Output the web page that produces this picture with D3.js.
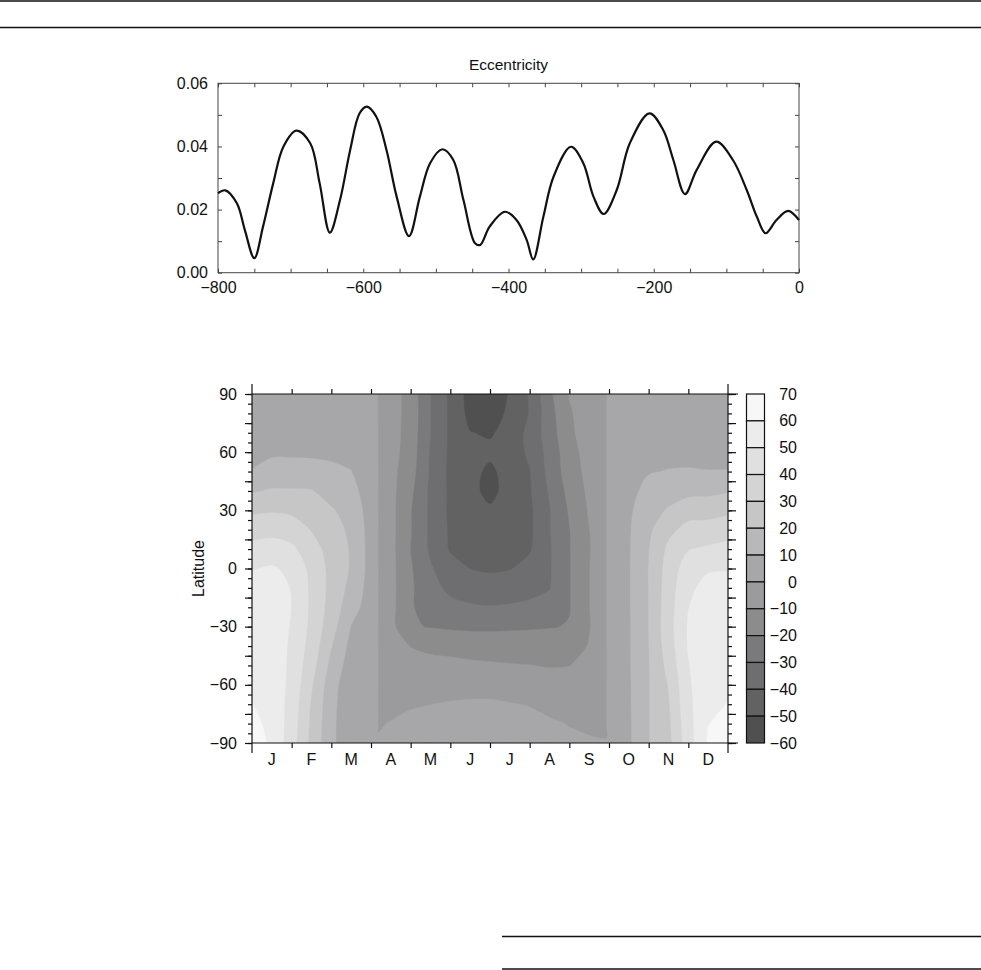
<!DOCTYPE html>
<html><head><meta charset="utf-8">
<script src="https://cdn.jsdelivr.net/npm/d3@7"></script>
<style>
html,body{margin:0;padding:0;background:#fff;}
svg{display:block;}
text{font-family:"Liberation Sans",Arial,Helvetica,sans-serif;fill:#111;}
</style></head><body>
<svg id="chart" width="981" height="970"></svg>
<script>
// ---------- data ----------
const eccTitle = "Eccentricity";
const eccTime = [-800,-790,-774,-763,-750,-738,-724,-710,-692,-673,-660,-646,-632,-618,-605,-595,-582,-568,-554,-537,-522,-508,-491,-476,-462,-446,-439,-426,-405,-389,-375,-366,-352,-338,-314,-297,-283,-269,-251,-233,-206,-187,-173,-157,-141,-114,-91,-72,-58,-46,-31,-15,0];
const eccValue = [.0252,.0261,.0220,.0135,.0046,.0146,.0283,.0399,.0450,.0410,.0283,.0127,.0230,.0389,.0505,.0526,.0494,.0389,.0241,.0116,.0241,.0347,.0391,.0357,.0230,.0093,.0088,.0146,.0193,.0167,.0104,.0042,.0177,.0304,.0399,.0347,.0241,.0186,.0262,.0410,.0505,.0452,.0357,.0249,.0325,.0415,.0357,.0262,.0177,.0125,.0167,.0196,.0167];
const eccYTicks = [0, 0.01, 0.02, 0.03, 0.04, 0.05, 0.06];
const eccYLabels = [0, 0.02, 0.04, 0.06];
const eccXLabels = [-800, -600, -400, -200, 0];

const monthLabels = ["J","F","M","A","M","J","J","A","S","O","N","D"];
const latLabels = [90, 60, 30, 0, -30, -60, -90];
const latAxisTitle = "Latitude";

// colour bar levels (top to bottom) and class colours (class k between levels[k+1] and levels[k])
const levels = [70, 60, 50, 40, 30, 20, 10, 0, -10, -20, -30, -40, -50, -60];
const levelColors = ["#f7f7f7","#ececec","#e0e0e0","#d4d4d4","#c6c6c6","#b8b8ba","#a7a7a9","#9b9b9d","#8c8c8c","#7a7a7c","#6e6e70","#626262","#505050"];

// field grid: columns at month positions, rows at latitudes
const fieldMonths = [0,0.5,1,1.5,2,2.5,3,3.17, 3.19,3.5,4,4.5,5,5.5,6,6.5,7,7.5,8,8.5,8.93, 8.95,9.5,10,10.5,11,11.5,12];
const fieldLats = [90,80,70,60,50,40,30,20,10,0,-10,-20,-30,-40,-50,-60,-70,-80,-90];
const fieldValues = [
 [0.5,1,1,1,1,1,1,1,        -3,-5.5,-14,-30,-42,-54,-58,-49,-39,-22,-9.5,-5,-1,        1,1,1,1,1,1,0.5],
 [2,3,3,3,3,2,1.5,1,        -3,-5.5,-14,-30,-42,-53,-55,-48,-39.5,-24,-11,-5.5,-1.5,   1,2,2.5,3,3,3,2],
 [3,5,5,5,5,4,2,1.5,        -3,-5.5,-14.5,-30,-42,-49.7,-51,-47,-37,-25,-12,-5,-2,     1.5,3,4,5,5.5,5.5,3],
 [6,8.8,8.8,8.8,8.5,7,3,2,  -3.5,-6,-15,-31,-42,-46,-48,-46,-38,-26.5,-14,-6,-2.5,     2,4.5,7,8,8,8,6],
 [10.5,13,13,12.5,11.5,10.2,4,3, -4,-7,-16,-31.5,-42.5,-47,-52,-46,-40.5,-27,-15,-7,-3, 3,6,9.5,10.3,10.5,10.2,10.5],
 [19,21,21,20.5,16,13,5,4,  -4.5,-7,-18,-32,-42,-47,-53,-46,-41,-29,-17,-8,-3.5,       4,7.5,12.5,15,17,17.5,19],
 [28,29,28,26,21,16,5.5,4.5, -5,-7,-19.5,-32,-42,-46,-48.5,-46,-42,-30.5,-19,-9,-4,    4.5,8.5,15.5,21,26,26.5,28],
 [36,37,35,29.5,24,18,6,5,  -5,-7,-19.5,-32,-41.5,-45,-46.5,-45,-42,-30.5,-20.3,-10.2,-4, 5,9,18,27.5,33,33.5,36],
 [43,44,42,34,26,19,6,5,    -5,-7,-20.2,-31.5,-41,-44,-45,-44,-41,-31,-20.5,-10.5,-4,  5,9.2,19.5,32,39.5,41.5,43],
 [49.5,51,48,37,27,19,6,5,  -5,-7,-19,-29,-36,-40.2,-41.5,-40.5,-37,-31,-20.5,-10.2,-4, 5,9.2,20.2,34,45,49,49.5],
 [53,54,49.5,38,27,17,5.5,4.5, -5,-7,-18.5,-27,-32,-34,-35,-34.5,-33,-30.5,-20.5,-10.2,-4, 5,9.2,20.2,35,48,53,53],
 [55,56,49.8,38,26,14,5,4,  -5,-7,-19,-24.5,-27.5,-29,-29.5,-29,-28,-26,-20.5,-10.2,-4, 4.5,9.2,20.2,35.5,49.8,55,55],
 [56,57,49,37.5,24,9.6,4,3.5, -4.5,-7,-19,-20.5,-21.5,-22,-22,-21.5,-21,-20.5,-19.5,-10.5,-4, 4,9,20.1,36,51,56,56],
 [57,57,48,36,20.5,7,3.5,3, -4,-7,-10.2,-11.5,-12.5,-13.5,-14,-14.5,-15,-15,-14,-9.5,-4, 3.5,9,19.8,35,50.8,56.5,57],
 [58,57,47.5,34,17,5,3,2.5, -3.5,-6,-7.5,-8,-8,-8.5,-9,-9.5,-9.8,-10.5,-10.2,-7,-3.5,  3,9,19.6,33,49.5,57,58],
 [59,57,47,31,14,3,2.5,2,   -3,-4.5,-5,-5,-4.5,-3.5,-3.5,-4,-5,-6,-6,-5,-3,             2.5,8.8,19.5,30.5,48.5,57.5,59],
 [60.2,57,46,29,13,2.5,2,1.5, -2.5,-3,-0.8,-0.1,0.8,1.2,1.2,0.4,-0.4,-2,-3,-3,-2.5,     2,8.8,19.5,29,47.5,58.5,60.2],
 [62,58,45,28,12.5,2,1.5,1, -0.8,0.5,2,2.5,3,3,3,2.8,2.5,1,-0.3,-1.5,-1.5,             1.5,8.5,19.6,28,46.5,59.8,62],
 [64,58.5,44,27,12.5,2,1,1, 1,2,3,3.5,4,4,4,4,3.5,2.5,1.5,1,0.5,                        1.5,8.5,19.6,27,45.5,61,64]
];

// ---------- drawing ----------
const svg = d3.select("#chart");
const FONT = 16;
const FAMILY = '"Liberation Sans",Arial,sans-serif';

// page rules
const rules = [[0,981,1],[0,981,27.5],[502,981,936.5],[502,981,969]];
svg.selectAll("line.rule").data(rules).join("line").attr("class","rule")
  .attr("x1",d=>d[0]).attr("x2",d=>d[1]).attr("y1",d=>d[2]).attr("y2",d=>d[2])
  .attr("stroke","#111").attr("stroke-width",1.3);

// ===== top chart =====
const ex = d3.scaleLinear().domain([-800,0]).range([218,799]);
const ey = d3.scaleLinear().domain([0,0.06]).range([272.7,83.3]);
const topG = svg.append("g");

topG.append("g").attr("transform",`translate(0,${ey(0)})`)
  .call(d3.axisBottom(ex).tickValues(d3.range(-800,1,50)).tickSize(-4).tickSizeOuter(0).tickPadding(9)
    .tickFormat(d => eccXLabels.includes(d) ? d3.format("d")(d) : ""))
  .call(g=>g.select(".domain").remove());
topG.append("g").attr("transform",`translate(0,${ey(0.06)})`)
  .call(d3.axisTop(ex).tickValues(d3.range(-800,1,50)).tickSize(-4).tickSizeOuter(0).tickFormat(""))
  .call(g=>g.select(".domain").remove());
topG.append("g").attr("transform",`translate(${ex(-800)},0)`)
  .call(d3.axisLeft(ey).tickValues(eccYTicks).tickSize(-4).tickSizeOuter(0).tickPadding(10)
    .tickFormat(d => eccYLabels.some(v=>Math.abs(v-d)<1e-9) ? d3.format(".2f")(d) : ""))
  .call(g=>g.select(".domain").remove());
topG.append("g").attr("transform",`translate(${ex(0)},0)`)
  .call(d3.axisRight(ey).tickValues(eccYTicks).tickSize(-4).tickSizeOuter(0).tickFormat(""))
  .call(g=>g.select(".domain").remove());
topG.selectAll(".tick line").attr("stroke","#444");
topG.selectAll(".tick text").attr("font-size",FONT).attr("font-family",FAMILY).attr("fill","#111");

topG.append("rect").attr("x",ex(-800)).attr("y",ey(0.06))
  .attr("width",ex(0)-ex(-800)).attr("height",ey(0)-ey(0.06))
  .attr("fill","none").attr("stroke","#444").attr("stroke-width",1);

const eccData = eccTime.map((t,i)=>[t,eccValue[i]]);
topG.append("path").datum(eccData)
  .attr("d", d3.line().x(d=>ex(d[0])).y(d=>ey(d[1])).curve(d3.curveCatmullRom.alpha(0.5)))
  .attr("fill","none").attr("stroke","#111").attr("stroke-width",2.2);

topG.append("text").attr("x",(ex(-800)+ex(0))/2).attr("y",70)
  .attr("text-anchor","middle").attr("font-size",15.5).text(eccTitle);

// ===== bottom chart =====
const fx = d3.scaleLinear().domain([0,12]).range([252,728]);
const fy = d3.scaleLinear().domain([90,-90]).range([394,743]);
const bot = svg.append("g");

svg.append("defs").append("clipPath").attr("id","fieldclip")
  .append("rect").attr("x",fx(0)).attr("y",fy(90)).attr("width",fx(12)-fx(0)).attr("height",fy(-90)-fy(90));

const nx = fieldMonths.length, ny = fieldLats.length;
const idxMonth = d3.scaleLinear().domain(fieldMonths.map((d,i)=>i+0.5)).range(fieldMonths).clamp(true);
const idxLat = d3.scaleLinear().domain(fieldLats.map((d,i)=>i+0.5)).range(fieldLats).clamp(true);
const toPx = p => [fx(idxMonth(p[0])), fy(idxLat(p[1]))];
const onBorder = q => Math.abs(q[0]-fx(0))<0.01 || Math.abs(q[0]-fx(12))<0.01 ||
                      Math.abs(q[1]-fy(90))<0.01 || Math.abs(q[1]-fy(-90))<0.01;
const ringLine = d3.line().curve(d3.curveCatmullRomClosed.alpha(0.5));
function contourPath(mp) {
  let s = "";
  for (const poly of mp.coordinates) for (const ring of poly) {
    const pts = ring.map(toPx);
    const out = [];
    for (const q of pts) {
      const last = out[out.length-1];
      if (last && Math.abs(last[0]-q[0])<1e-6 && Math.abs(last[1]-q[1])<1e-6) continue;
      out.push(q);
    }
    while (out.length > 1 && Math.abs(out[0][0]-out[out.length-1][0])<1e-6 && Math.abs(out[0][1]-out[out.length-1][1])<1e-6) out.pop();
    if (out.length < 3) continue;
    const fin = [];
    for (const q of out) { fin.push(q); if (onBorder(q)) fin.push(q); }
    s += ringLine(fin);
  }
  return s;
}

const ascLevels = levels.slice(1).reverse();           // -60 .. 60 (class lower bounds)
const ascColors = levelColors.slice().reverse();        // colours of those classes
const contours = d3.contours().size([nx,ny]).thresholds(ascLevels)(fieldValues.flat());
bot.append("g").attr("clip-path","url(#fieldclip)")
  .selectAll("path").data(contours).join("path")
  .attr("d", contourPath)
  .attr("fill-rule","evenodd")
  .attr("fill", d => ascColors[ascLevels.indexOf(d.value)])
  .attr("stroke", d => ascColors[ascLevels.indexOf(d.value)])
  .attr("stroke-width",0.4);

// axes
const ax = bot.append("g").attr("stroke","#111");
ax.append("line").attr("x1",fx(0)).attr("x2",fx(0)).attr("y1",fy(90)-10).attr("y2",fy(-90)+10);
ax.append("line").attr("x1",fx(12)).attr("x2",fx(12)).attr("y1",fy(90)-10).attr("y2",fy(-90)+10);
ax.append("line").attr("x1",fx(0)).attr("x2",fx(12)+10).attr("y1",fy(90)).attr("y2",fy(90));
ax.append("line").attr("x1",fx(0)).attr("x2",fx(12)+10).attr("y1",fy(-90)).attr("y2",fy(-90));
ax.selectAll("line").attr("stroke-width",1.2);

const monthTicks = d3.range(1,12);
bot.append("g").attr("transform",`translate(0,${fy(-90)})`)
  .call(d3.axisBottom(fx).tickValues(monthTicks).tickSize(5).tickSizeOuter(0).tickFormat(""))
  .call(g=>g.select(".domain").remove());
bot.append("g").attr("transform",`translate(0,${fy(90)})`)
  .call(d3.axisTop(fx).tickValues(monthTicks).tickSize(5).tickSizeOuter(0).tickFormat(""))
  .call(g=>g.select(".domain").remove());

const latMinor = d3.range(-90,91,5);
const latMajor = d3.range(-90,91,15);
bot.append("g").attr("transform",`translate(${fx(0)},0)`)
  .call(d3.axisLeft(fy).tickValues(latMinor).tickSize(4).tickSizeOuter(0).tickFormat(""))
  .call(g=>g.select(".domain").remove());
bot.append("g").attr("transform",`translate(${fx(0)},0)`)
  .call(d3.axisLeft(fy).tickValues(latMajor).tickSize(7).tickSizeOuter(0).tickPadding(8)
    .tickFormat(d => latLabels.includes(d) ? d3.format("d")(d) : ""))
  .call(g=>g.select(".domain").remove());
bot.append("g").attr("transform",`translate(${fx(12)},0)`)
  .call(d3.axisRight(fy).tickValues(latMinor).tickSize(4).tickSizeOuter(0).tickFormat(""))
  .call(g=>g.select(".domain").remove());
bot.append("g").attr("transform",`translate(${fx(12)},0)`)
  .call(d3.axisRight(fy).tickValues(latMajor).tickSize(8).tickSizeOuter(0).tickFormat(""))
  .call(g=>g.select(".domain").remove());
bot.selectAll(".tick line").attr("stroke","#111").attr("stroke-width",1.2);
bot.selectAll(".tick text").attr("font-size",FONT).attr("font-family",FAMILY).attr("fill","#111");

bot.selectAll("text.month").data(monthLabels).join("text").attr("class","month")
  .attr("x",(d,i)=>fx(i+0.5)).attr("y",fy(-90)+22)
  .attr("text-anchor","middle").attr("font-size",FONT).text(d=>d);

bot.append("text").attr("transform",`translate(204,${fy(0)}) rotate(-90)`)
  .attr("text-anchor","middle").attr("font-size",FONT).text(latAxisTitle);

// colour bar
const yb = d3.scaleLinear().domain([70,-60]).range([394,743]);
const cb = bot.append("g");
cb.selectAll("rect").data(levelColors).join("rect")
  .attr("x",746.5).attr("width",18)
  .attr("y",(d,i)=>yb(levels[i])).attr("height",(d,i)=>yb(levels[i+1])-yb(levels[i]))
  .attr("fill",d=>d).attr("stroke","#111").attr("stroke-width",1.2);
cb.selectAll("text").data(levels).join("text")
  .attr("x",797).attr("y",d=>yb(d)).attr("dy","0.35em")
  .attr("text-anchor","end").attr("font-size",FONT)
  .text(d=>d3.format("d")(d));
</script>
</body></html>
